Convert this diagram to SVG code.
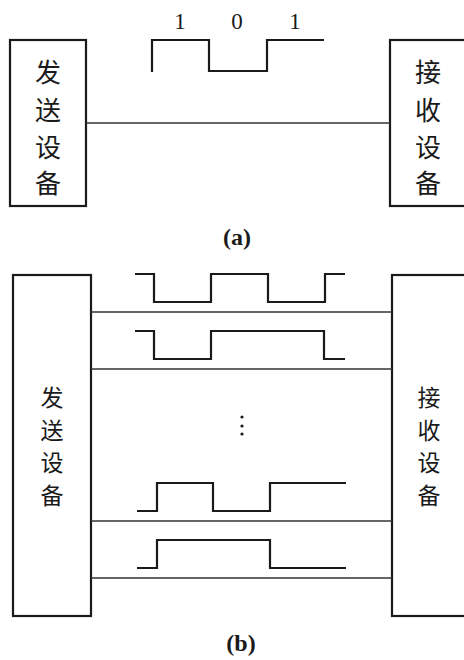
<svg xmlns="http://www.w3.org/2000/svg" width="464" height="660" viewBox="0 0 464 660">
<style>
.box{fill:none;stroke:#1a1a1a;stroke-width:2.2}
.line{fill:none;stroke:#333;stroke-width:1.5}
.sig{fill:none;stroke:#1a1a1a;stroke-width:2.2;stroke-linejoin:miter}
.cjk{font-family:"Noto Sans CJK SC","Noto Sans",sans-serif;fill:#1a1a1a;text-anchor:middle;dominant-baseline:central}
.lat{font-family:"Liberation Serif",serif;fill:#1a1a1a;text-anchor:middle}
</style>
<rect width="464" height="660" fill="#ffffff"/>

<g id="sender-a">
<rect class="box" x="10" y="40" width="76" height="166"/>
<text class="cjk" font-size="26" x="48" y="70">发</text>
<text class="cjk" font-size="26" x="48" y="108">送</text>
<text class="cjk" font-size="26" x="48" y="145">设</text>
<text class="cjk" font-size="26" x="48" y="181">备</text>
</g>
<g id="receiver-a">
<rect class="box" x="390" y="40" width="90" height="166"/>
<text class="cjk" font-size="26" x="428" y="70">接</text>
<text class="cjk" font-size="26" x="428" y="108">收</text>
<text class="cjk" font-size="26" x="428" y="145">设</text>
<text class="cjk" font-size="26" x="428" y="181">备</text>
</g>
<g id="connectors-a">
<line class="line" x1="86" y1="123" x2="390" y2="123"/>
</g>
<g id="signal-a">
<polyline class="sig" points="152,72 152,40 209,40 209,71 267,71 267,40 324,40"/>
<text class="lat" font-size="23" x="180" y="29">1</text>
<text class="lat" font-size="23" x="237" y="29">0</text>
<text class="lat" font-size="23" x="295" y="29">1</text>
</g>
<text class="lat" font-size="24" font-weight="bold" x="237" y="245">(a)</text>

<g id="sender-b">
<rect class="box" x="13" y="275" width="78" height="341"/>
<text class="cjk" font-size="23" x="52" y="396">发</text>
<text class="cjk" font-size="23" x="52" y="428.5">送</text>
<text class="cjk" font-size="23" x="52" y="461">设</text>
<text class="cjk" font-size="23" x="52" y="493.5">备</text>
</g>
<g id="receiver-b">
<rect class="box" x="392" y="275" width="90" height="341"/>
<text class="cjk" font-size="23" x="429" y="396">接</text>
<text class="cjk" font-size="23" x="429" y="428.5">收</text>
<text class="cjk" font-size="23" x="429" y="461">设</text>
<text class="cjk" font-size="23" x="429" y="493.5">备</text>
</g>
<g id="connectors-b">
<line class="line" x1="91" y1="312" x2="392" y2="312"/>
<line class="line" x1="91" y1="369" x2="392" y2="369"/>
<line class="line" x1="91" y1="521" x2="392" y2="521"/>
<line class="line" x1="91" y1="578" x2="392" y2="578"/>
</g>
<g id="signals-b">
<polyline class="sig" points="135,274 154,274 154,302 211,302 211,274 268,274 268,302 325,302 325,274 345,274"/>
<polyline class="sig" points="135,331 154,331 154,359 211,359 211,331 324,331 324,359 345,359"/>
<polyline class="sig" points="137,511 157,511 157,483 213,483 213,511 270,511 270,483 346,483"/>
<polyline class="sig" points="137,568 157,568 157,540 270,540 270,568 346,568"/>
<circle cx="242" cy="417" r="1.6" fill="#1a1a1a"/>
<circle cx="242" cy="426" r="1.6" fill="#1a1a1a"/>
<circle cx="242" cy="434" r="1.6" fill="#1a1a1a"/>
</g>
<text class="lat" font-size="24" font-weight="bold" x="241" y="651">(b)</text>
</svg>
